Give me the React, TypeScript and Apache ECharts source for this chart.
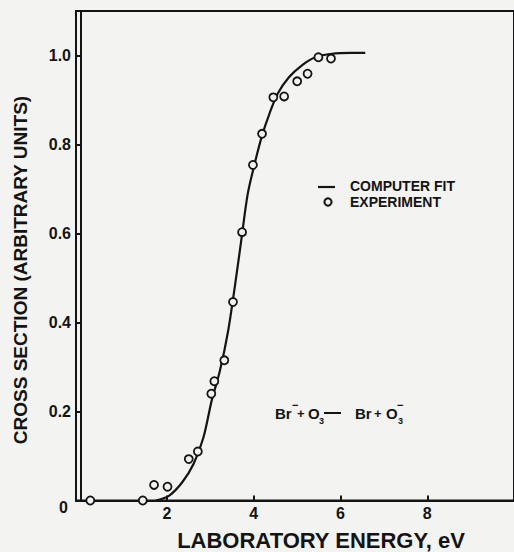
import React, { useEffect, useRef } from "react";
import * as echarts from "echarts";

const INK = "#141414";
const BG = "#f3f3f1";
const FONT = "'Liberation Sans', Arial, sans-serif";

// Experimental points (laboratory energy eV, cross section arb. units)
const expX = [0.23, 1.44, 1.7, 2.01, 2.5, 2.71, 3.02, 3.09, 3.32, 3.52, 3.73, 3.98, 4.19, 4.45, 4.7, 5.0, 5.24, 5.49, 5.78];
const expY = [0.0, 0.0, 0.035, 0.031, 0.093, 0.11, 0.24, 0.268, 0.315, 0.446, 0.603, 0.754, 0.824, 0.906, 0.908, 0.942, 0.959, 0.996, 0.993];

// Computer fit curve
const fitX = [1.75, 2.05, 2.35, 2.61, 2.84, 3.03, 3.22, 3.41, 3.56, 3.71, 3.86, 4.02, 4.19, 4.36, 4.55, 4.81, 5.11, 5.42, 5.8, 6.25, 6.57];
const fitY = [0.0, 0.011, 0.041, 0.082, 0.142, 0.225, 0.292, 0.382, 0.479, 0.584, 0.689, 0.757, 0.82, 0.869, 0.914, 0.951, 0.978, 0.996, 1.004, 1.006, 1.006];

const xTicks = [2, 4, 6, 8];
const yTicks = [0.2, 0.4, 0.6, 0.8, 1.0];
const originLabel = "0";

const xTitle = "LABORATORY ENERGY, eV";
const yTitle = "CROSS SECTION (ARBITRARY UNITS)";
const fitName = "COMPUTER FIT";
const expName = "EXPERIMENT";

export default function App() {
  const ref = useRef<HTMLDivElement>(null);

  useEffect(() => {
    if (!ref.current) return;
    const chart = echarts.init(ref.current, null, { renderer: "svg" });
    const bold = (size: number) => ({ fontFamily: FONT, fontWeight: "bold" as const, fontSize: size, fill: INK });

    chart.setOption({
      animation: false,
      backgroundColor: BG,
      grid: {
        left: 76,
        top: 11,
        width: 444,
        height: 489.5,
        show: true,
        borderColor: INK,
        borderWidth: 2,
        backgroundColor: "transparent",
      },
      xAxis: {
        type: "value",
        min: -0.1,
        max: 10,
        splitLine: { show: false },
        axisLine: { show: true, lineStyle: { color: INK, width: 2 } },
        axisTick: { show: true, inside: true, length: 5, customValues: xTicks, lineStyle: { color: INK, width: 2 } },
        axisLabel: {
          customValues: xTicks,
          formatter: (v: number) => String(v),
          color: INK,
          fontFamily: FONT,
          fontWeight: "bold",
          fontSize: 16,
          margin: 5,
        },
      },
      yAxis: {
        type: "value",
        min: 0,
        max: 1.1,
        splitLine: { show: false },
        axisLine: { show: true, lineStyle: { color: INK, width: 2 } },
        axisTick: { show: true, inside: false, length: 4, customValues: yTicks, lineStyle: { color: INK, width: 2 } },
        axisLabel: {
          customValues: yTicks,
          formatter: (v: number) => v.toFixed(1),
          color: INK,
          fontFamily: FONT,
          fontWeight: "bold",
          fontSize: 16,
          margin: 5,
        },
      },
      series: [
        {
          name: fitName,
          type: "line",
          data: fitX.map((x, i) => [x, fitY[i]]),
          smooth: 0.3,
          symbol: "none",
          lineStyle: { color: INK, width: 2.2 },
          itemStyle: { color: INK },
          z: 3,
        },
        {
          name: expName,
          type: "scatter",
          data: expX.map((x, i) => [x, expY[i]]),
          symbol: "circle",
          symbolSize: 8,
          itemStyle: { color: BG, borderColor: INK, borderWidth: 1.8, opacity: 1 },
          z: 4,
        },
      ],
      graphic: [
        { type: "text", left: 59, top: 499, style: { text: originLabel, ...bold(16) } },
        {
          type: "text",
          x: 20,
          y: 270,
          rotation: Math.PI / 2,
          style: { text: yTitle, ...bold(19), align: "center", verticalAlign: "middle" },
        },
        {
          type: "text",
          x: 321,
          y: 540,
          style: { text: xTitle, ...bold(22), lineHeight: 20, align: "center", verticalAlign: "middle" },
        },
        // Legend
        { type: "line", shape: { x1: 318, y1: 187, x2: 335, y2: 187 }, style: { stroke: INK, lineWidth: 2.2 } },
        { type: "circle", shape: { cx: 328, cy: 202, r: 3.6 }, style: { fill: BG, stroke: INK, lineWidth: 2 } },
        { type: "text", x: 350, y: 185.5, style: { text: fitName, ...bold(14), lineHeight: 12, verticalAlign: "middle" } },
        { type: "text", x: 350, y: 202, style: { text: expName, ...bold(14), lineHeight: 12, verticalAlign: "middle" } },
        // Reaction: Br⁻ + O₃ → Br + O₃⁻
        { type: "text", x: 275, y: 413, style: { text: "Br", ...bold(15), verticalAlign: "middle" } },
        { type: "text", x: 292, y: 405, style: { text: "−", ...bold(11), verticalAlign: "middle" } },
        { type: "text", x: 297, y: 413, style: { text: "+", ...bold(13), verticalAlign: "middle" } },
        { type: "text", x: 308, y: 413, style: { text: "O", ...bold(15), verticalAlign: "middle" } },
        { type: "text", x: 319, y: 421, style: { text: "3", ...bold(9), verticalAlign: "middle" } },
        { type: "line", shape: { x1: 324, y1: 413, x2: 341, y2: 413 }, style: { stroke: INK, lineWidth: 2 } },
        { type: "text", x: 355, y: 413, style: { text: "Br", ...bold(15), verticalAlign: "middle" } },
        { type: "text", x: 374, y: 413, style: { text: "+", ...bold(13), verticalAlign: "middle" } },
        { type: "text", x: 386, y: 413, style: { text: "O", ...bold(15), verticalAlign: "middle" } },
        { type: "text", x: 398, y: 421, style: { text: "3", ...bold(9), verticalAlign: "middle" } },
        { type: "text", x: 397, y: 405, style: { text: "−", ...bold(11), verticalAlign: "middle" } },
      ],
    });

    return () => chart.dispose();
  }, []);

  return (
    <div
      ref={ref}
      style={{ position: "fixed", left: 0, top: 0, width: 514, height: 552, background: BG }}
    />
  );
}
